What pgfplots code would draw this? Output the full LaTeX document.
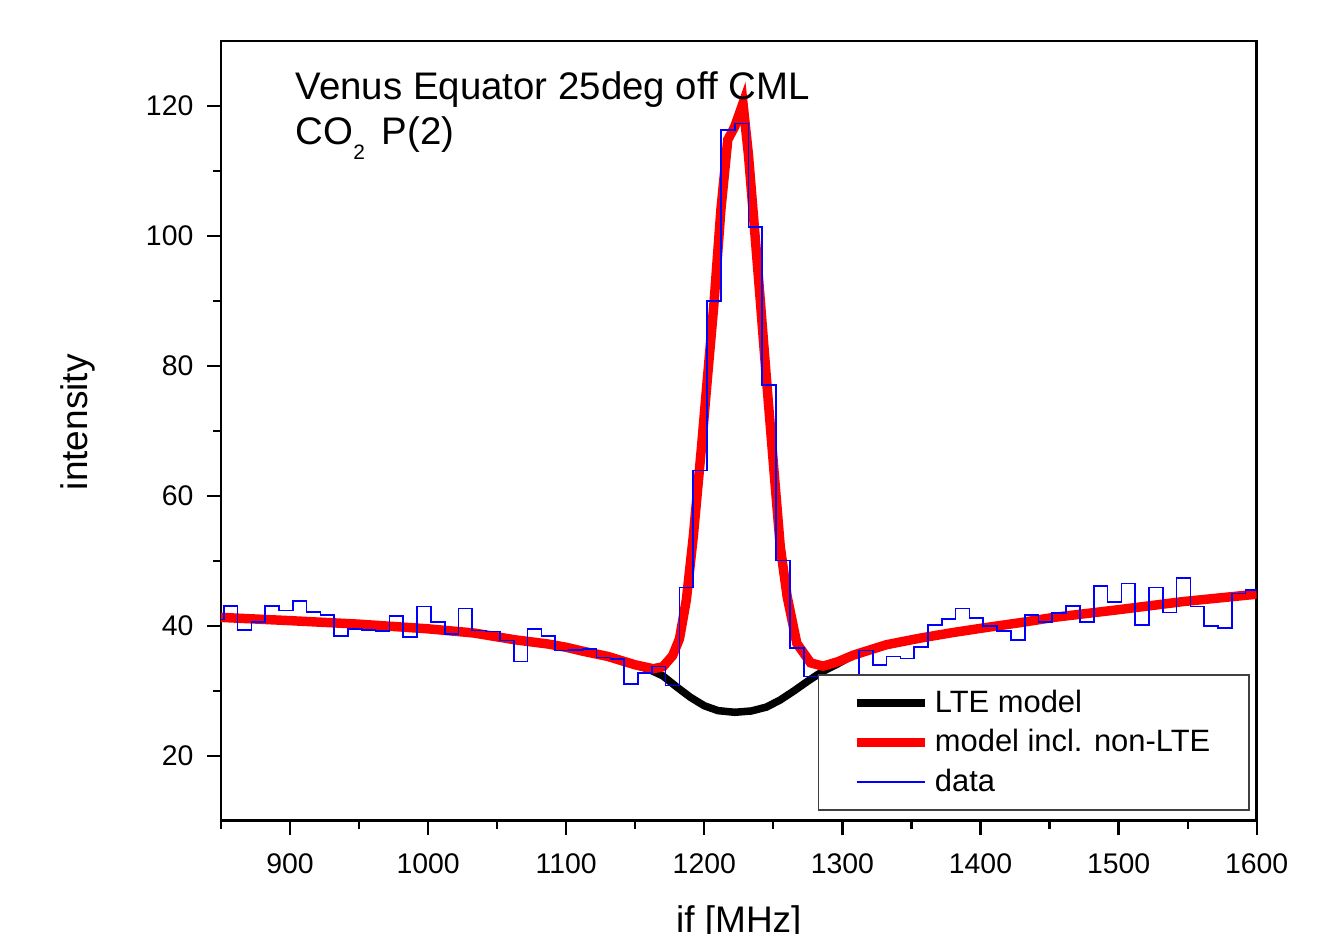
\documentclass[border=0pt]{standalone}
\usepackage{fontspec}
\setmainfont{Liberation Sans}
\usepackage{pgfplots}
\pgfplotsset{compat=1.18}

% binned spectrum, x = left bin edge
\pgfplotstableread{
x y
842 41.0
852 43.08
862 39.38
872 40.57
882 43.08
892 42.36
902 43.85
912 42.10
922 41.64
932 38.46
942 39.54
952 39.33
962 39.23
972 41.54
982 38.31
992 42.97
1002 40.57
1012 38.77
1022 42.67
1032 39.28
1042 39.13
1052 37.74
1062 34.51
1072 39.54
1082 38.41
1092 36.20
1102 36.30
1112 36.41
1122 35.13
1132 34.92
1142 31.08
1152 32.72
1162 33.74
1172 30.82
1182 45.90
1192 63.90
1202 89.95
1212 116.3
1222 117.3
1232 101.4
1242 77.1
1252 50.05
1262 36.57
1272 32.20
1282 32.35
1292 30.0
1302 29.5
1312 36.2
1322 34.0
1332 35.28
1342 34.97
1352 36.72
1362 40.1
1372 41.03
1382 42.67
1392 41.18
1402 40.0
1412 39.23
1422 37.85
1432 41.69
1442 40.56
1452 41.95
1462 43.08
1472 40.56
1482 46.15
1492 43.64
1502 46.51
1512 40.15
1522 45.9
1532 42.05
1542 47.38
1552 42.97
1562 40.0
1572 39.64
1582 44.97
1592 45.54
1602 45.54
}\spectrum

\begin{document}
\begin{tikzpicture}
\begin{axis}[
  name=ax,
  scale only axis,
  width=372.1pt, height=280.2pt,
  xmin=850, xmax=1600, ymin=10, ymax=130,
  xtick={900,1000,...,1600}, ytick={20,40,...,120},
  minor xtick={850,950,...,1550}, minor ytick={30,50,...,110},
  tick align=outside, xtick pos=bottom, ytick pos=left,
  major tick length=5pt, minor tick length=2.8pt,
  axis line style={line width=1pt},
  every tick/.style={black, line width=0.8pt},
  tick label style={font=\fontsize{10.2}{12}\selectfont},
  xticklabel style={yshift=-3.2pt},
  yticklabel style={xshift=-1.4pt},
  /pgf/number format/assume math mode=true,
  /pgf/number format/1000 sep={},
  xlabel={if [MHz]}, ylabel={intensity},
  label style={font=\fontsize{13.3}{15}\selectfont},
  xlabel style={at={(axis description cs:0.5,-0.1435)}, anchor=base},
  ylabel style={at={(axis description cs:-0.138,0.511)}, anchor=center},
  legend style={at={(axis description cs:0.9936,0.0128)}, anchor=south east,
    draw=black!75, line width=0.6pt, fill=white,
    font=\fontsize{11.1}{13}\selectfont,
    inner xsep=12pt, inner ysep=3.2pt, row sep=0.7pt},
  legend cell align=left,
  legend image code/.code={\draw[#1] (0pt,0pt) -- (24.4pt,0pt);},
]
\addplot[black, line width=2.7pt] coordinates {
(850,41.3)(900,40.8)(950,40.26)(1000,39.54)(1033,38.9)(1063,37.85)(1087,37.2)
(1100,36.7)(1112,36.1)(1130,35.3)(1150,34.0)(1160,33.3)(1170,32.3)(1180,30.6)
(1190,29.0)(1200,27.7)(1210,26.95)(1222,26.7)(1234,26.9)(1245,27.5)(1255,28.6)
(1265,30.0)(1275,31.5)(1285,32.9)(1297,34.2)(1308,35.5)(1332,37.1)(1356,38.1)
(1380,38.97)(1404,39.74)(1429,40.5)(1453,41.3)(1499,42.46)(1547,43.74)(1600,44.87)};
\addlegendentry{LTE model}
\addplot[red, line width=3.4pt] coordinates {
(850,41.3)(900,40.8)(950,40.26)(1000,39.54)(1033,38.9)(1063,37.85)(1087,37.2)
(1100,36.7)(1112,36.1)(1130,35.3)(1150,34.0)(1163,33.4)(1170,33.7)(1177,35.4)
(1182,38.0)(1187,44.0)(1192,53.7)(1198,67.6)(1202,77.5)(1207,89.6)(1212,104.0)
(1217,114.8)(1222,116.8)(1228,120.4)(1232,112.4)(1236,102.0)(1240,91.5)(1245,78.0)
(1250,65.0)(1255,52.2)(1260,44.5)(1267,37.3)(1277,34.3)(1286,33.8)(1297,34.5)
(1308,35.5)(1332,37.1)(1356,38.1)(1380,38.97)(1404,39.74)(1429,40.5)(1453,41.3)
(1499,42.46)(1547,43.74)(1600,44.87)};
\addlegendentry{model incl. non-LTE}
\addplot[blue, line width=0.6pt, const plot] table[x=x, y=y] {\spectrum};
\addlegendentry{data}
\node[anchor=base west, font=\fontsize{13.8}{16}\selectfont, inner sep=0pt] at (axis cs:903.7,121.0) {Venus Equator 25deg off CML};
\node[anchor=base west, font=\fontsize{13.8}{16}\selectfont, inner sep=0pt] at (axis cs:903.7,114.0) {CO\raisebox{-5.2pt}{\fontsize{7.5}{8}\selectfont 2}\hspace{6pt}P(2)};
\end{axis}
\pgfresetboundingbox
\path ([xshift=-79.4pt,yshift=-40.6pt]ax.south west) rectangle ([xshift=28.5pt,yshift=14.7pt]ax.north east);
\end{tikzpicture}
\end{document}
